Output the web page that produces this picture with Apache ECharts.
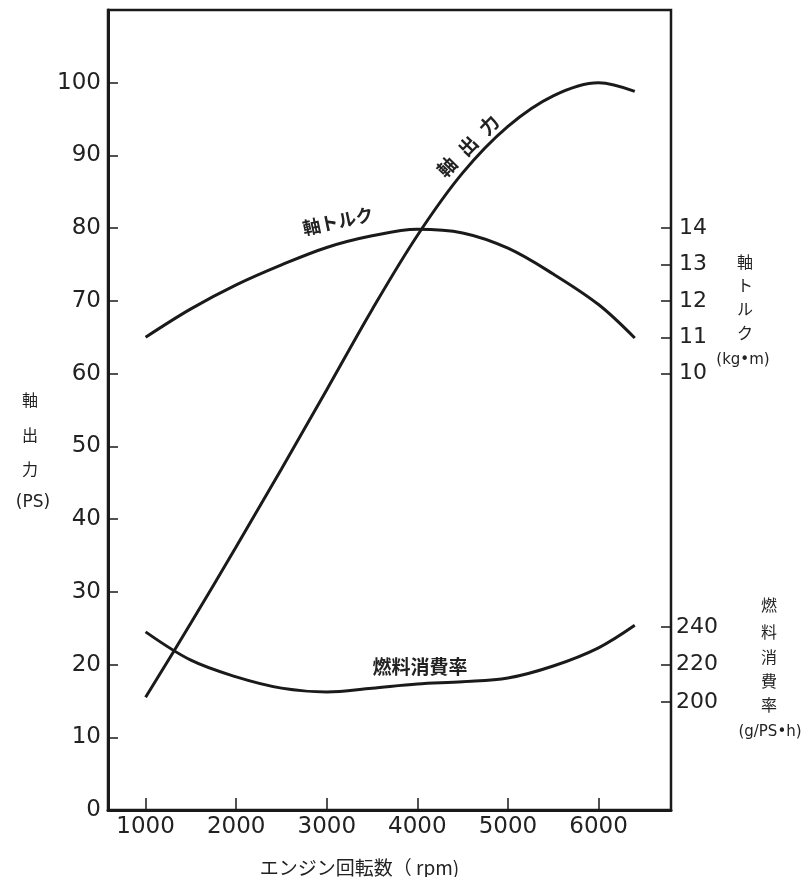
<!DOCTYPE html>
<html>
<head>
<meta charset="utf-8">
<script src="https://cdn.jsdelivr.net/npm/echarts@6/dist/echarts.min.js"></script>
<style>
html,body{margin:0;padding:0;background:#fff;}
#chart{width:812px;height:877px;}
</style>
</head>
<body>
<div id="chart"></div>
<script>
// Engine speed (rpm) sample points
const rpm = [1000, 1500, 2000, 2500, 3000, 3500, 4000, 4500, 5000, 5500, 6000, 6400];
// 軸出力 (PS)
const power = [15.5, 25.7, 36.2, 46.9, 57.8, 68.8, 79.0, 87.6, 94.0, 98.2, 100, 98.8];
// 軸トルク (kg·m)
const torque = [11.0, 11.78, 12.44, 12.99, 13.47, 13.79, 13.97, 13.87, 13.45, 12.74, 11.9, 10.98];
// 燃料消費率 (g/PS·h)
const fuel = [237.4, 222.3, 213.4, 207.4, 205.4, 207.4, 209.6, 210.8, 212.8, 219.2, 228.9, 240.9];

// tick labels
const xTicks = [1000, 2000, 3000, 4000, 5000, 6000];
const psTicks = [0, 10, 20, 30, 40, 50, 60, 70, 80, 90, 100];
const torqueTicks = [10, 11, 12, 13, 14];
const fuelTicks = [200, 220, 240];

const pair = (xs, ys) => xs.map((x, i) => [x, ys[i]]);

const INK = '#1a1a1a';
const numFont = 'DejaVu Sans';
const cjkFont = 'Noto Sans CJK JP';

const chart = echarts.init(document.getElementById('chart'), null, {renderer: 'canvas'});

const lineSeries = (name, data, yIdx) => ({
  name, type: 'line', data, yAxisIndex: yIdx, smooth: 0.35,
  symbol: 'none', lineStyle: {color: INK, width: 3}, silent: true, z: 3
});

const sideLabel = (text, x, y, size, font) => ({
  type: 'text', x, y,
  style: {text, fill: '#222', font: `${size}px "${font || cjkFont}"`, align: 'center', verticalAlign: 'middle'}
});

const curveLabel = (text, x, y, rot, size) => ({
  type: 'text', x, y, rotation: rot,
  style: {text, fill: '#222', font: `bold ${size}px "${cjkFont}"`, align: 'center', verticalAlign: 'middle'}
});

chart.setOption({
  animation: false,
  backgroundColor: '#fff',
  grid: {left: 108, right: 141, top: 10, bottom: 67, show: true, borderColor: INK, borderWidth: 2.5,
         containLabel: false, outerBoundsMode: 'none'},
  xAxis: {
    type: 'value', min: 585, max: 6800,
    name: 'エンジン回転数（ rpm)', nameLocation: 'middle', nameGap: 48,
    nameTextStyle: {fontFamily: cjkFont, fontSize: 19, color: '#222', padding: [0, 0, 0, -60]},
    axisLine: {show: true, onZero: false, lineStyle: {color: INK, width: 3}},
    axisTick: {show: true, inside: true, length: 12, lineStyle: {color: INK, width: 1.5}, customValues: xTicks},
    axisLabel: {show: true, customValues: xTicks, margin: 6, fontFamily: numFont, fontSize: 23, color: '#222',
                formatter: v => String(v)},
    splitLine: {show: false}
  },
  yAxis: [
    {
      type: 'value', position: 'left', min: 0, max: 110,
      axisLine: {show: true, onZero: false, lineStyle: {color: INK, width: 3}},
      axisTick: {show: true, inside: true, length: 10, lineStyle: {color: INK, width: 1.5}, customValues: psTicks},
      axisLabel: {show: true, customValues: psTicks, margin: 7, fontFamily: numFont, fontSize: 23, color: '#222'},
      splitLine: {show: false}
    },
    {
      type: 'value', position: 'right', min: -2, max: 20,
      axisLine: {show: false},
      axisTick: {show: true, inside: true, length: 10, lineStyle: {color: INK, width: 1.5}, customValues: torqueTicks},
      axisLabel: {show: true, customValues: torqueTicks, margin: 8, fontFamily: numFont, fontSize: 22, color: '#222'},
      splitLine: {show: false}
    },
    {
      type: 'value', position: 'right', offset: 0, min: 142.4, max: 569.1,
      axisLine: {show: false},
      axisTick: {show: true, inside: true, length: 10, lineStyle: {color: INK, width: 1.5}, customValues: fuelTicks},
      axisLabel: {show: true, customValues: fuelTicks, margin: 5, fontFamily: numFont, fontSize: 22, color: '#222'},
      splitLine: {show: false}
    }
  ],
  series: [
    lineSeries('軸出力', pair(rpm, power), 0),
    lineSeries('軸トルク', pair(rpm, torque), 1),
    lineSeries('燃料消費率', pair(rpm, fuel), 2)
  ],
  graphic: [
    // left axis name
    sideLabel('軸', 30, 400, 16),
    sideLabel('出', 30, 435, 16),
    sideLabel('力', 30, 469, 16),
    sideLabel('(PS)', 33, 503, 17, 'DejaVu Sans'),
    // torque axis name
    sideLabel('軸', 745, 262, 16),
    sideLabel('ト', 745, 285, 16),
    sideLabel('ル', 745, 309, 16),
    sideLabel('ク', 745, 333, 16),
    sideLabel('(kg•m)', 743, 360, 15, 'DejaVu Sans'),
    // fuel axis name
    sideLabel('燃', 769, 605, 16),
    sideLabel('料', 769, 632, 16),
    sideLabel('消', 769, 657, 16),
    sideLabel('費', 769, 681, 16),
    sideLabel('率', 769, 705, 16),
    sideLabel('(g/PS•h)', 770, 732, 15, 'DejaVu Sans'),
    // curve labels
    curveLabel('軸トルク', 338, 221, 0.21, 18),
    curveLabel('軸', 447, 167, 0.8, 19),
    curveLabel('出', 468, 146, 0.8, 19),
    curveLabel('力', 489, 125, 0.8, 19),
    curveLabel('燃料消費率', 420, 667, 0, 19)
  ]
});
</script>
</body>
</html>
